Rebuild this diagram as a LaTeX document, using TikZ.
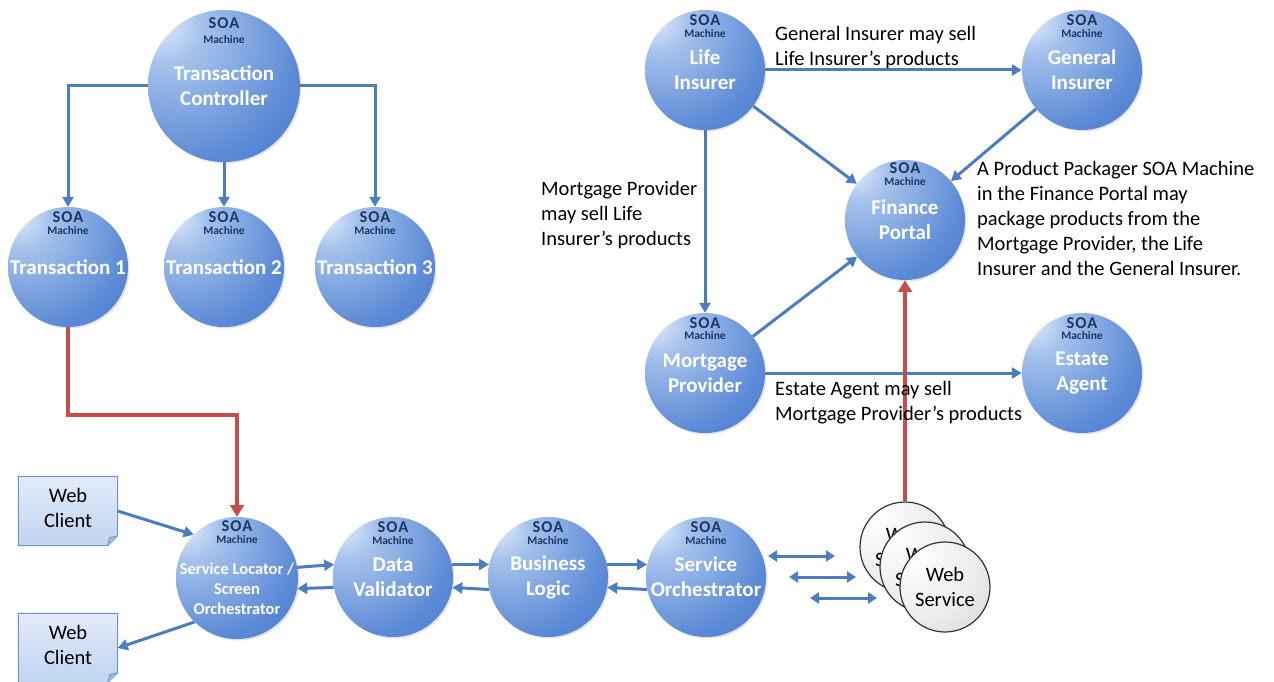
\documentclass[tikz,border=0pt]{standalone}
\usepackage{fontspec}
\setmainfont{Carlito}
\usetikzlibrary{arrows.meta,calc,shadows}
\definecolor{soablue}{RGB}{52,110,198}
\definecolor{soamid}{RGB}{92,138,214}
\definecolor{soalite}{RGB}{165,194,236}
\definecolor{soahi}{RGB}{230,238,251}
\definecolor{edgeblue}{RGB}{74,126,192}
\definecolor{redline}{RGB}{196,78,74}
\definecolor{soatext}{RGB}{30,54,100}
\definecolor{wcfill}{RGB}{192,212,240}
\definecolor{wchi}{RGB}{226,236,250}
\definecolor{wcfold}{RGB}{160,185,225}
\definecolor{wcborder}{RGB}{110,146,205}
\definecolor{wsgrey}{RGB}{190,190,194}
\definecolor{wslight}{RGB}{236,236,238}
\pgfdeclareradialshading{soaball}{\pgfpoint{-22bp}{22bp}}{color(0bp)=(soahi); color(12bp)=(soalite); color(38bp)=(soamid); color(60bp)=(soablue); color(100bp)=(soablue)}
\pgfdeclareradialshading{wsball}{\pgfpoint{-18bp}{18bp}}{color(0bp)=(white); color(30bp)=(wslight); color(68bp)=(wsgrey); color(100bp)=(wsgrey)}
\newcommand\soalabelfont{\fontsize{21}{25}\selectfont\bfseries}
\newcommand\notefont{\fontsize{20.5}{25}\selectfont}
\newcommand\soamach[3]{%
  \node[soatxt] (#1-soa) at ($(#1.center)+(0,#2)$) {SOA};
  \node[machtxt] (#1-mach) at ($(#1.center)+(0,#3)$) {Machine};}
\newcommand\webclient[2]{%
  \node[wc] (#1) at (#2) {};
  \draw[wcborder, line width=1pt, top color=wchi, bottom color=wcfill]
    (#1.north west) -- (#1.north east) -- ($(#1.south east)+(0,-10)$)
    -- ($(#1.south east)+(-10,0)$) -- (#1.south west) -- cycle;
  \draw[wcborder, line width=0.8pt, fill=wcfold]
    ($(#1.south east)+(0,-10)$) -- ($(#1.south east)+(-8,-8)$) -- ($(#1.south east)+(-10,0)$);
  \node[font=\notefont, align=center, inner sep=0pt] (#1-txt) at ($(#1.center)+(0,-3)$) {Web\\Client};}
\tikzset{
  soa/.style={circle, minimum size=120pt, inner sep=0pt, shading=soaball, text=white,
    font=\soalabelfont, align=center,
    drop shadow={opacity=0.22, shadow xshift=1.5pt, shadow yshift=-1.5pt}},
  soatxt/.style={text=soatext, font=\fontsize{16.5}{16}\selectfont\bfseries\addfontfeature{LetterSpace=6}, inner sep=0pt},
  machtxt/.style={text=soatext, font=\fontsize{11.5}{11}\selectfont\bfseries, inner sep=0pt},
  arr/.style={draw=edgeblue, line width=3pt, -{Triangle[length=10pt,width=11pt]}},
  redarr/.style={draw=redline, line width=4pt, -{Triangle[length=12pt,width=14pt]}},
  dbl/.style={draw=edgeblue, line width=3pt, {Triangle[length=9pt,width=11pt]}-{Triangle[length=9pt,width=11pt]}},
  note/.style={font=\notefont, align=left, inner sep=0pt, anchor=base west},
  ws/.style={circle, minimum size=90pt, inner sep=0pt, shading=wsball, draw=black!80,
    line width=1.2pt, font=\notefont, align=center},
  wc/.style={minimum width=99pt, minimum height=69pt, inner sep=0pt},
}
\begin{document}
\begin{tikzpicture}[x=1pt, y=-1pt]
\useasboundingbox[fill=white] (0,0) rectangle (1274,682);

% --- left part ---
\node[soa, minimum size=152pt] (tc) at (224,86) {Transaction\\Controller};
\soamach{tc}{-63}{-46}
\node[soa] (t1) at (68,267) {Transaction 1};
\soamach{t1}{-50}{-36}
\node[soa] (t2) at (224,267) {Transaction 2};
\soamach{t2}{-50}{-36}
\node[soa] (t3) at (375,267) {Transaction 3};
\soamach{t3}{-50}{-36}

\draw[arr] (tc.west) -| (t1.north);
\draw[arr] (tc.south) -- (t2.north);
\draw[arr] (tc.east) -| (t3.north);

% --- bottom row ---
\node[soa, minimum size=122pt] (sl) at (237,578) {};
\soamach{sl}{-52}{-38}
\node[font=\fontsize{16.5}{20}\selectfont\bfseries, text=white, align=center, inner sep=0pt] (sl-txt) at (237,589) {Service Locator /\\Screen\\Orchestrator};
\node[soa] (dv) at (393,577) {Data\\Validator};
\soamach{dv}{-50}{-36}
\node[soa] (bl) at (548,577) {Business\\Logic};
\soamach{bl}{-50}{-36}
\node[soa] (so) at (706,577) {Service\\Orchestrator};
\soamach{so}{-50}{-36}

\draw[arr] (sl.10) -- (dv.168);
\draw[arr] (dv.-170) -- (sl.-10);
\draw[arr] (dv.12) -- (bl.168);
\draw[arr] (bl.-168) -- (dv.-10);
\draw[arr] (bl.12) -- (so.168);
\draw[arr] (so.-168) -- (bl.-10);

\draw[redarr] (t1.south) -- ++(0,88) -| (sl.north);

% web clients
\webclient{wc1}{68,511}
\webclient{wc2}{68,648}
\draw[arr] (wc1.east) -- (sl.135);
\draw[arr] (sl.226) -- (wc2.east);

% web services
\node[ws] (ws1) at (905,547) {Web\\Service};
\node[ws] (ws2) at (925,567) {Web\\Service};
\node[ws] (ws3) at (945,587) {Web\\Service};

\coordinate (d1a) at (768,556); \coordinate (d1b) at (835,556);
\coordinate (d2a) at (789,577); \coordinate (d2b) at (856,577);
\coordinate (d3a) at (810,598); \coordinate (d3b) at (877,598);
\draw[dbl] (d1a) -- (d1b);
\draw[dbl] (d2a) -- (d2b);
\draw[dbl] (d3a) -- (d3b);

% --- right part ---
\node[soa] (life) at (705,70) {Life\\Insurer};
\soamach{life}{-50}{-36}
\node[soa] (gen) at (1082,70) {General\\Insurer};
\soamach{gen}{-50}{-36}
\node[soa] (fin) at (905,220) {Finance\\Portal};
\soamach{fin}{-52}{-38}
\node[soa] (mort) at (705,373) {Mortgage\\Provider};
\soamach{mort}{-50}{-37}
\node[soa] (est) at (1082,373) {Estate\\Agent};
\soamach{est}{-50}{-37}

\draw[arr] (life.east) -- (gen.west);
\draw[arr] (life) -- (fin);
\draw[arr] (gen) -- (fin);
\draw[arr] (life.south) -- (mort.north);
\draw[arr] (mort) -- (fin);
\draw[arr] (mort.east) -- (est.west);
\draw[redarr] (ws1.north) -- (fin.south);

\node[note] (n1) at (775,65.5) {General Insurer may sell\\Life Insurer’s products};
\node[note] (n2) at (541,245.5) {Mortgage Provider\\may sell Life\\Insurer’s products};
\node[note] (n3) at (977,275.5) {A Product Packager SOA Machine\\in the Finance Portal may\\package products from the\\Mortgage Provider, the Life\\Insurer and the General Insurer.};
\node[note] (n4) at (775,420.5) {Estate Agent may sell\\Mortgage Provider’s products};
\end{tikzpicture}
\end{document}
